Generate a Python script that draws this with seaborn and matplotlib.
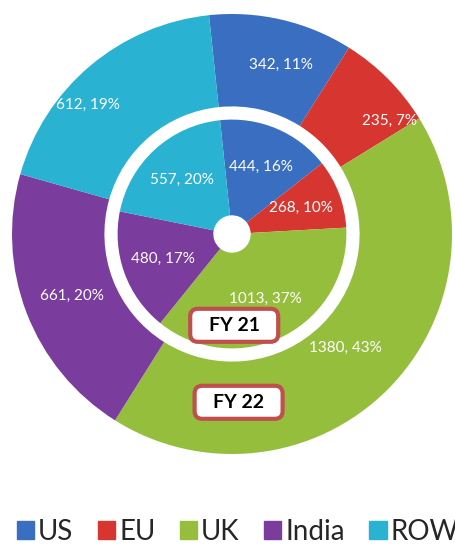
import numpy as np
import seaborn as sns
import matplotlib.pyplot as plt
from matplotlib.patches import FancyBboxPatch

regions = ['US', 'EU', 'UK', 'India', 'ROW']
fy22 = [342, 235, 1380, 661, 612]
fy22_pct = [11, 7, 43, 20, 19]
fy21 = [444, 268, 1013, 480, 557]
fy21_pct = [16, 10, 37, 17, 20]
colors = ['#3A6EC0', '#D7352F', '#95BE3D', '#7A3C9D', '#2AB2D3']

sns.set_theme(style='white')
plt.rcParams['font.family'] = ['Lato', 'DejaVu Sans']

W, H, R = 455, 546, 220
cx, cy = 232, 234
fig = plt.figure(figsize=(W / 100, H / 100), dpi=100)
ax = fig.add_axes([(cx - R) / W, (H - cy - R) / H, 2 * R / W, 2 * R / H])

pal = sns.color_palette(colors)

# outer ring FY22, inner pie FY21
outer, _ = ax.pie(fy22, radius=1.0, startangle=96, counterclock=False, colors=pal,
                  wedgeprops=dict(width=0.42, linewidth=0))
inner, _ = ax.pie(fy21, radius=0.52, startangle=96, counterclock=False, colors=pal,
                  wedgeprops=dict(width=0.435, linewidth=0))
ax.set_xlim(-1, 1)
ax.set_ylim(-1, 1)


def mid(w):
    return np.deg2rad((w.theta1 + w.theta2) / 2)


# label placement tweaks (radius, angle nudge in degrees)
out_r = [0.8, 0.88, 0.73, 0.78, 0.88]
out_nudge = [-3, -9, 0, 0, 8]
for w, v, p, r, d in zip(outer, fy22, fy22_pct, out_r, out_nudge):
    a = mid(w) + np.deg2rad(d)
    ax.text(r * np.cos(a), r * np.sin(a), f'{v}, {p}%', color='white',
            fontsize=11, ha='center', va='center')

for w, v, p in zip(inner, fy21, fy21_pct):
    a = mid(w)
    ax.text(0.335 * np.cos(a), 0.33 * np.sin(a), f'{v}, {p}%', color='white',
            fontsize=11, ha='center', va='center')


def year_box(x, y, label, w=0.4, h=0.15):
    ax.add_patch(FancyBboxPatch((x - w / 2, y - h / 2), w, h,
                                boxstyle='round,pad=0,rounding_size=0.035',
                                fc='white', ec='#C0504D', lw=3))
    ax.text(x, y, label, fontsize=14, fontweight='bold', color='black',
            ha='center', va='center')


year_box(0.01, -0.415, 'FY 21')
year_box(0.03, -0.765, 'FY 22')

handles = [plt.Rectangle((0, 0), 1, 1, color=c) for c in colors]
fig.legend(handles, regions, loc='lower left', bbox_to_anchor=(0.006, -0.024),
           ncol=5, frameon=False, fontsize=20, handlelength=0.62, handleheight=0.62,
           handletextpad=0.15, columnspacing=0.88, borderpad=0)

fig.savefig('out.png', dpi=100)
